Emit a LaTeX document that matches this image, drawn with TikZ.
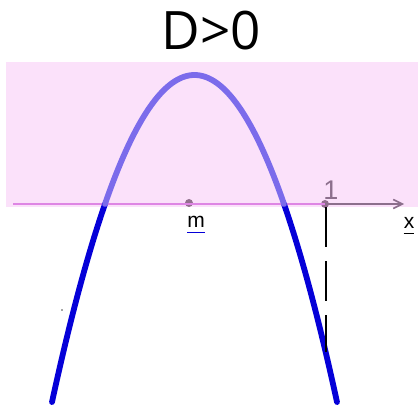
\documentclass[tikz,border=0pt]{standalone}
\usepackage{fontspec}
\setmainfont{Open Sans}
\newfontfamily\labfont{Liberation Sans}
\usetikzlibrary{arrows.meta,positioning}
\definecolor{pinkbg}{HTML}{FBE1FA}
\definecolor{axispink}{HTML}{DE86E4}
\definecolor{axisgray}{HTML}{8C6F8C}
\definecolor{upperblue}{HTML}{7B6BEB}
\definecolor{lowerblue}{HTML}{0500D8}
\definecolor{dotgray}{HTML}{93708F}
\tikzset{
  curveup/.style={line width=5.8pt,draw=upperblue,line cap=round},
  curvedown/.style={line width=5.8pt,draw=lowerblue,line cap=round},
  dot/.style={circle,fill=dotgray,inner sep=0pt,minimum size=8pt},
  lab/.style={font=\labfont\fontsize{21}{21}\selectfont,inner sep=0pt}
}
\begin{document}
\begin{tikzpicture}[x=1pt,y=-1pt]
\useasboundingbox (0,0) rectangle (418,409);
% background band
\fill[pinkbg] (6,62) rectangle (418,207);
\node[font=\fontsize{53}{53}\selectfont,anchor=base] (title) at (211,50) {D>0};
% axis
\coordinate (axl) at (13,204);
\coordinate (axr) at (404,204);
\node[dot] (mpt) at (189,203) {};
\node[dot] (onept) at (325,204) {};
\draw[axispink,line width=1.6pt] (axl) -- (onept.center);
\draw[axisgray,line width=1.6pt,-{Straight Barb[length=9pt,width=9pt]}] (onept.center) -- (axr);
% parabola
\draw[curvedown] plot[domain=52:105,samples=30] (\x,{75+(0.12691*(\x-194.5))^2});
\draw[curvedown] plot[domain=284:337,samples=30] (\x,{75+(0.12691*(\x-194.5))^2});
\draw[curveup] plot[domain=105:284,samples=80] (\x,{75+(0.12691*(\x-194.5))^2});
% vertical dashed line
\coordinate (vbot) at (326,352);
\draw[black,line width=1.3pt,dash pattern=on 40pt off 14pt] (326,207) -- (vbot);
% labels
\node[lab,anchor=base,text=black] (mlab) at (196,228) {m};
\draw[lowerblue,line width=1.2pt] ([yshift=-4pt]mlab.south west) -- ([yshift=-4pt]mlab.south east);
\node[lab,anchor=base,text=axisgray,font=\labfont\fontsize{27}{27}\selectfont] (onelab) at (331,200) {1};
\node[lab,anchor=base,text=black] (xlab) at (409,229) {x};
\draw[black,line width=1.2pt] ([yshift=-4pt]xlab.south west) -- ([yshift=-4pt]xlab.south east);
\fill[black!70] (62,310) circle (0.9pt);
\end{tikzpicture}
\end{document}
